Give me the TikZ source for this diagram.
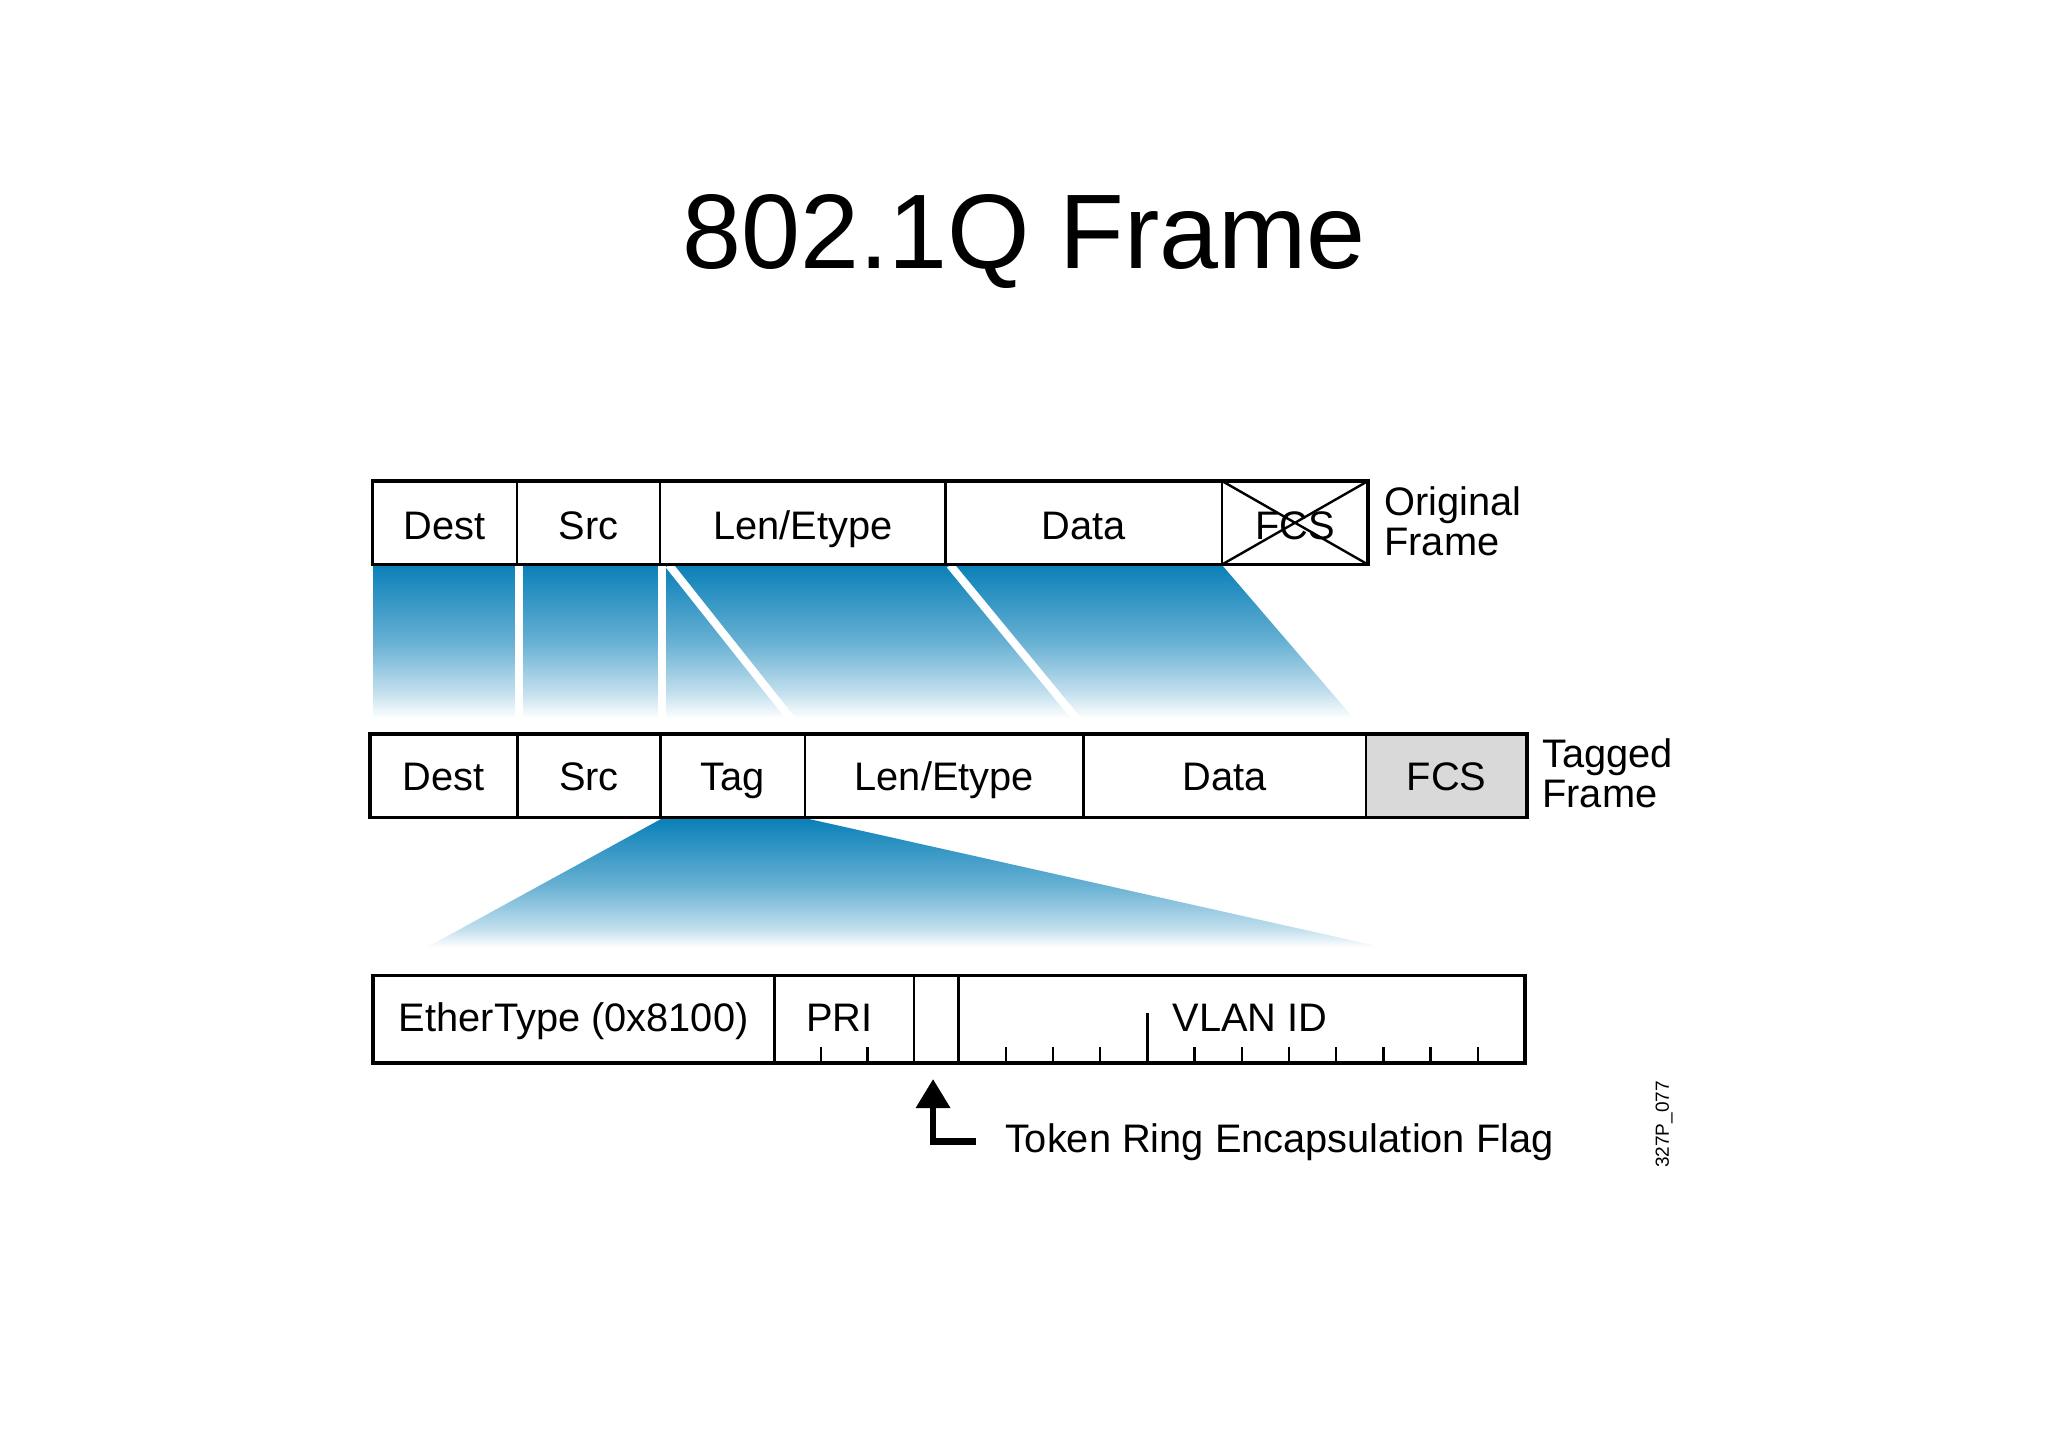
\documentclass[tikz,border=0pt]{standalone}
\usepackage{fontspec}
\setmainfont{Liberation Sans}
\usetikzlibrary{arrows.meta}
\definecolor{topblue}{RGB}{10,128,184}
\definecolor{fcsgray}{RGB}{217,217,217}
\colorlet{blueA}{topblue!25!white}
\colorlet{blueB}{topblue!62!white}
\pgfdeclareverticalshading{fadeblue}{100bp}{color(0bp)=(white); color(28bp)=(white); color(36bp)=(blueA); color(51.5bp)=(blueB); color(75bp)=(topblue); color(100bp)=(topblue)}
\pgfdeclareverticalshading{fadetag}{100bp}{color(0bp)=(white); color(26bp)=(white); color(33bp)=(blueA); color(50bp)=(blueB); color(75bp)=(topblue); color(100bp)=(topblue)}
\newcommand\lblfont{\fontsize{19.9pt}{20pt}\selectfont}
\begin{document}
\begin{tikzpicture}[x=0.5pt,y=-0.5pt,
  field/.style={draw, line width=1.35pt, inner sep=0pt, outer sep=0pt, font=\lblfont, text depth=0pt},
  orow/.style={field, minimum height=41.75pt, text height=16.7pt},
  trow/.style={field, minimum height=41.75pt, text height=14.3pt},
  drow/.style={field, minimum height=43.75pt, text height=12.5pt},
  outer/.style={line width=1.8pt},
  gap/.style={white, line width=4pt},
  lab/.style={font=\lblfont, align=left, inner sep=0pt},
  tick/.style={line width=1.2pt},
  flagarrow/.style={line width=3.3pt, line join=miter, -{Triangle[length=14.5pt,width=16.5pt]}}]
\useasboundingbox (0,0) rectangle (2048,1447);

% title
\node[anchor=base, font=\fontsize{53pt}{60pt}\selectfont, inner sep=0pt] (title) at (1024,268) {802.1Q Frame};

% gradients
\shade[shading=fadeblue] (373,565) -- (1222,565) -- (1362,728) -- (373,728) -- cycle;
\draw[gap] (519,565) -- (519,732);
\draw[gap] (662,565) -- (662,732);
\draw[gap] (669,565) -- (803,734);
\draw[gap] (950,565) -- (1089,734);
\shade[shading=fadetag] (661,819) -- (809,819) -- (1395,950) -- (422,950) -- cycle;

% original frame
\node[orow, minimum width=72.25pt] (od) at (444.75,522.75) {Dest};
\node[orow, minimum width=71.5pt] (os) at (588.5,522.75) {Src};
\node[orow, minimum width=142.85pt] (ol) at (802.85,522.75) {Len/Etype};
\node[orow, minimum width=138.15pt] (oa) at (1083.85,522.75) {Data};
\node[orow, minimum width=73pt] (of) at (1295,522.75) {FCS};
\draw[line width=1.2pt] (of.north west) -- (of.south east) (of.south west) -- (of.north east);
\draw[outer] (od.north west) rectangle (of.south east);
\node[lab, anchor=base west] (olab) at (1384,555) {Original\\Frame};

% tagged frame
\node[trow, minimum width=73.75pt] (td) at (443.75,775.75) {Dest};
\node[trow, minimum width=71.5pt] (ts) at (589,775.75) {Src};
\node[trow, minimum width=72.25pt] (tt) at (732.75,775.75) {Tag};
\node[trow, minimum width=139.25pt] (tl) at (944.25,775.75) {Len/Etype};
\node[trow, minimum width=141.25pt] (ta) at (1224.75,775.75) {Data};
\node[trow, minimum width=80.5pt, fill=fcsgray] (tf) at (1446.5,775.75) {FCS};
\draw[outer] (td.north west) rectangle (tf.south east);
\node[lab, anchor=base west] (tlab) at (1542,807) {Tagged\\Frame};

% tag detail
\node[drow, minimum width=200.75pt] (de) at (573.75,1019.25) {EtherType (0x8100)};
\node[drow, minimum width=69.75pt] (dp) at (844.25,1019.25) {PRI\hspace*{4.75pt}};
\node[drow, minimum width=22.25pt] (dc) at (936.25,1019.25) {};
\node[drow, minimum width=283.25pt] (dv) at (1241.75,1019.25) {\hspace*{8.3pt}VLAN ID};
\draw[outer] (de.north west) rectangle (dv.south east);
\foreach \k in {1,2} \draw[tick] ([xshift=\k*23.25pt]dp.south west) -- ++(0,-16.3);
\foreach \k in {1,...,11} \draw[tick] ([xshift=\k*23.604pt]dv.south west) -- ++(0,-16.3);
\draw[tick] ([xshift=4*23.604pt]dv.south west) -- ++(0,-50);

% flag
\node[anchor=base west, font=\lblfont, inner sep=0pt] (flag) at (1004.6,1152) {Token Ring Encapsulation Flag};
\draw[flagarrow] ([xshift=-14.3pt]flag.west) -| ([xshift=-1.6pt,yshift=-8pt]dc.south);

% figure code
\node[rotate=90, font=\fontsize{9.5pt}{11pt}\selectfont, inner sep=0pt] (code) at (1664,1124.5) {327P\_077};
\end{tikzpicture}
\end{document}
